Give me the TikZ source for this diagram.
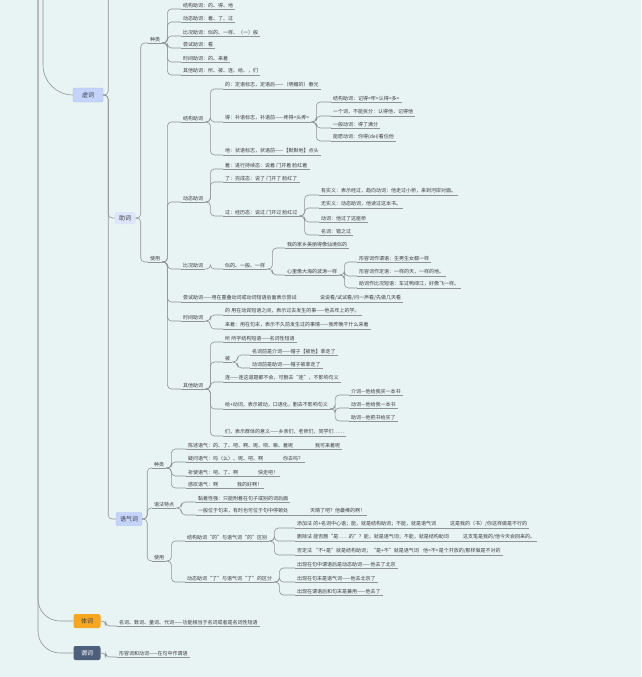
\documentclass[tikz,border=0pt]{standalone}
\usepackage{fontspec}
\setmainfont{Noto Sans CJK SC}
\usetikzlibrary{positioning}

\definecolor{bgcol}{HTML}{E8F3F3}
\definecolor{linecol}{HTML}{8E9494}
\definecolor{txtcol}{HTML}{3C3C3C}
\definecolor{xublue}{HTML}{C4D3FA}
\definecolor{xuedge}{HTML}{A9BCF2}
\definecolor{tiorange}{HTML}{F7A620}
\definecolor{weislate}{HTML}{4E5F7C}

\tikzset{
  conn/.style={draw=linecol, line width=0.6pt, rounded corners=4pt},
  leaf/.style={anchor=south west, inner xsep=2pt, inner ysep=1.3pt, text=txtcol,
    font=\fontsize{5}{6}\selectfont,
    append after command={(\tikzlastnode.south west) edge[conn] (\tikzlastnode.south east)}},
  topic/.style={rounded corners=2pt, minimum height=14pt, inner xsep=5pt, inner ysep=2pt,
    font=\fontsize{6}{7}\selectfont, text=txtcol},
}
\newcommand\hop[2]{\draw[conn] (#1.south east) -- ++(5,0) |- (#2.south west);}
\newcommand\boxhop[2]{\draw[conn] (#1.east) -- ++(5,0) |- (#2.south west);}

\begin{document}
\begin{tikzpicture}[x=1pt, y=-1pt]
\useasboundingbox (0,0) rectangle (641,677);
\clip (0,0) rectangle (641,677);
\fill[bgcol] (0,0) rectangle (641,677);

% main topics
\node[topic, fill=xublue, draw=xuedge, minimum width=30pt] (xuci) at (88,95) {虚词};
\node[topic, fill=xublue!60, minimum width=21pt, inner xsep=2pt, minimum height=12pt] (zhuci) at (125,218) {助词};
\node[topic, fill=xublue, draw=xuedge, minimum width=26pt, inner xsep=2pt, minimum height=13pt] (yuqi) at (129,519) {语气词};
\node[topic, fill=tiorange, minimum width=27pt] (tici) at (87,621) {体词};
\node[topic, fill=weislate, text=white, minimum width=27pt] (weici) at (87,653) {谓词};

\coordinate (rootA) at (38,-20);
\coordinate (rootB) at (43,-20);
\coordinate (upper) at (130,-20);
\draw[conn, rounded corners=30pt] (rootB) |- (xuci.west);
\draw[conn, rounded corners=22pt] (rootA) |- (tici.west);
\draw[conn, rounded corners=22pt] (rootA) |- (weici.west);
\draw[conn] (xuci.east) -- ++(5,0) |- (upper);
\draw[conn] (xuci.east) -- ++(5,0) |- (zhuci.west);
\draw[conn] (xuci.east) -- ++(5,0) |- (yuqi.west);

% 体词 / 谓词
\node[leaf] (tiT) at (117,626) {名词、数词、量词、代词——功能相当于名词或者是名词性短语};
\node[leaf] (weiT) at (117,657) {形容词和动词——在句中作谓语};
\boxhop{tici}{tiT}
\boxhop{weici}{weiT}

% 助词
\node[leaf] (zKind) at (148,43) {种类};
\node[leaf] (zUse) at (148,262) {使用};
\boxhop{zhuci}{zKind}
\boxhop{zhuci}{zUse}

\node[leaf] (k1) at (181,9) {结构助词：的、得、地};
\node[leaf] (k2) at (181,22) {动态助词：着、了、过};
\node[leaf] (k3) at (181,36) {比况助词：似的、一样、（一）般};
\node[leaf] (k4) at (181,48) {尝试助词：看};
\node[leaf] (k5) at (181,62) {时间助词：的、来着};
\node[leaf] (k6) at (181,75) {其他助词：所、被、连、给、，们};
\foreach \k in {k1,k2,k3,k4,k5,k6} {\hop{zKind}{\k}}

\node[leaf] (jg) at (181,122) {结构助词};
\node[leaf] (dt) at (181,202) {动态助词};
\node[leaf] (bk) at (181,269) {比况助词};
\node[leaf] (cs) at (181,302) {\makebox[137pt][l]{尝试助词——用在重叠动词或动词短语后面表示尝试}说说看/试试看/问一声看/先做几天看};
\node[leaf] (sj) at (181,321) {时间助词};
\node[leaf] (qt) at (181,389) {其他助词};
\foreach \k in {jg,dt,bk,cs,sj,qt} {\hop{zUse}{\k}}

% 结构助词
\node[leaf] (de1) at (223,89) {的：定语标志，定语后——（明媚的）春光};
\node[leaf] (de2) at (223,122) {得：补语标志，补语前——疼得<头疼>};
\node[leaf] (de3) at (223,155) {地：状语标志，状语前——【默默地】点头};
\foreach \k in {de1,de2,de3} {\hop{jg}{\k}}
\node[leaf] (dd1) at (331,102) {结构助词：记得<牢>认得<多>};
\node[leaf] (dd2) at (331,116) {一个词，不能拆分：认得他，记得他};
\node[leaf] (dd3) at (331,128) {一般动词：得了满分};
\node[leaf] (dd4) at (331,141) {能愿动词：你得(dei)看住他};
\foreach \k in {dd1,dd2,dd3,dd4} {\hop{de2}{\k}}

% 动态助词
\node[leaf] (zhe) at (223,169) {着：进行持续态：说着 门开着 脸红着};
\node[leaf] (le) at (223,182) {了：完成态：说了 门开了 脸红了};
\node[leaf] (guo) at (223,216) {过：经历态：说过 门开过 脸红过};
\foreach \k in {zhe,le,guo} {\hop{dt}{\k}}
\node[leaf] (g1) at (319,195) {有实义：表示经过，趋向动词：他走过小桥，来到河岸对面。};
\node[leaf] (g2) at (319,208) {无实义：动态助词，他读过这本书。};
\node[leaf] (g3) at (319,222) {动词：他过了这座桥};
\node[leaf] (g4) at (319,235) {名词：错之过};
\foreach \k in {g1,g2,g3,g4} {\hop{guo}{\k}}

% 比况助词
\node[leaf] (sd) at (223,269) {似的、一般、一样};
\hop{bk}{sd}
\node[leaf] (b1) at (285,248) {我的家乡美丽得像仙境似的};
\node[leaf] (b2) at (285,275) {心里像大海的波涛一样};
\hop{sd}{b1}
\hop{sd}{b2}
\node[leaf] (y1) at (357,262) {形容词作谓语：生男生女都一样};
\node[leaf] (y2) at (357,276) {形容词作定语：一样的天，一样的地。};
\node[leaf] (y3) at (357,288) {助词作比况短语：车过鸭绿江，好像飞一样。};
\foreach \k in {y1,y2,y3} {\hop{b2}{\k}}

% 时间助词
\node[leaf] (t1) at (223,315) {的 用在动宾短语之间，表示过去发生的事——他去年上的学。};
\node[leaf] (t2) at (223,329) {来着：用在句末，表示不久前发生过的事情——我昨晚干什么来着};
\hop{sj}{t1}
\hop{sj}{t2}

% 其他助词
\node[leaf] (o1) at (223,342) {所 所字结构短语——名词性短语};
\node[leaf] (o2) at (223,362) {被};
\node[leaf] (o3) at (223,382) {连——连这道题都不会，可删去“连”，不影响句义};
\node[leaf] (o4) at (223,409) {给+动词，表示被动，口语化，删去不影响句义};
\node[leaf] (o5) at (223,436) {们，表示群体的意义——乡亲们，老师们，同学们……};
\foreach \k in {o1,o2,o3,o4,o5} {\hop{qt}{\k}}
\node[leaf] (p1) at (250,355) {名词前是介词——帽子【被他】拿走了};
\node[leaf] (p2) at (250,368) {动词前是助词——帽子被拿走了};
\hop{o2}{p1}
\hop{o2}{p2}
\node[leaf] (r1) at (349,395) {介词—他给我买一本书};
\node[leaf] (r2) at (349,408) {动词—他给我一本书};
\node[leaf] (r3) at (349,421) {助词—他把书给买了};
\foreach \k in {r1,r2,r3} {\hop{o4}{\k}}

% 语气词
\node[leaf] (qKind) at (152,468) {种类};
\node[leaf] (qGram) at (152,508) {语法特点};
\node[leaf] (qUse) at (152,561) {使用};
\foreach \k in {qKind,qGram,qUse} {\boxhop{yuqi}{\k}}

\node[leaf] (m1) at (186,449) {\makebox[127pt][l]{陈述语气：的、了、吧、啊、呢、呗、嘛、着呢}我可来着呢};
\node[leaf] (m2) at (186,462) {\makebox[95pt][l]{疑问语气：吗（么）、呢、吧、啊}你去吗？};
\node[leaf] (m3) at (186,476) {\makebox[70pt][l]{祈使语气：吧、了、啊}快走吧！};
\node[leaf] (m4) at (186,488) {\makebox[49pt][l]{感叹语气：啊}我的好啊！};
\foreach \k in {m1,m2,m3,m4} {\hop{qKind}{\k}}

\node[leaf] (n1) at (196,502) {黏着性强：只能附着在句子或别的词后面};
\node[leaf] (n2) at (196,515) {\makebox[112pt][l]{一般位于句末，有时也可位于句中停顿处}天晴了吧？他最棒的啊！};
\hop{qGram}{n1}
\hop{qGram}{n2}

\node[leaf] (u1) at (185,541) {结构助词“的”与语气词“的”区别};
\node[leaf] (u2) at (185,582) {动态助词“了”与语气词“了”的区分};
\hop{qUse}{u1}
\hop{qUse}{u2}
\node[leaf] (v1) at (295,528) {\makebox[153pt][l]{添加法 的+名词中心语；能，就是结构助词；不能，就是语气词}这是我的（书）/你这样做是不行的};
\node[leaf] (v2) at (295,541) {\makebox[166pt][l]{删除法 能否删“是……的”？能，就是语气词；不能，就是结构助词}这支笔是我的/他今天会回来的。};
\node[leaf] (v3) at (295,555) {\makebox[126pt][l]{否定法 “不+是”就是结构助词；“是+不”就是语气词}他<不>是个开放的/那样做是不对的};
\foreach \k in {v1,v2,v3} {\hop{u1}{\k}}
\node[leaf] (w1) at (295,568) {出现在句中谓语后是动态助词——他去了北京};
\node[leaf] (w2) at (295,582) {出现在句末是语气词——他去北京了};
\node[leaf] (w3) at (295,595) {出现在谓语后和句末是兼用——他去了};
\foreach \k in {w1,w2,w3} {\hop{u2}{\k}}
\end{tikzpicture}
\end{document}
